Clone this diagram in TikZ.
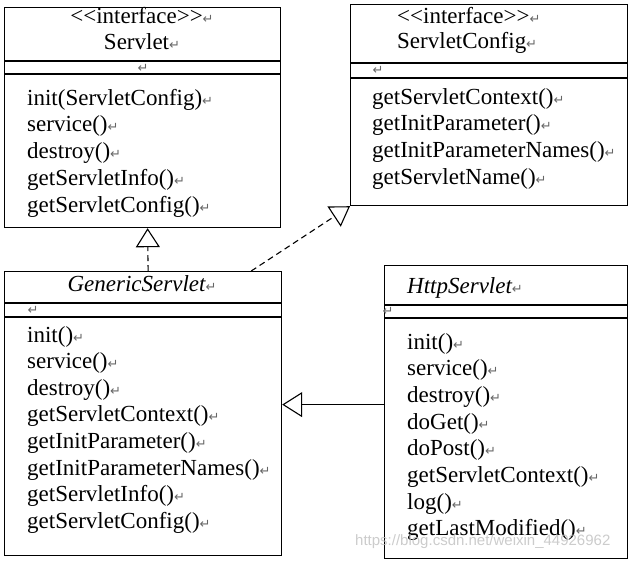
\documentclass[tikz,border=0pt]{standalone}
\usepackage{fontspec}
\setmainfont{Liberation Serif}
\newfontfamily\retfont{DejaVu Sans}
\newfontfamily\markfont{Liberation Sans}
\usetikzlibrary{arrows.meta,calc}

\newcommand{\ret}{{\retfont\fontsize{13}{13}\selectfont\color{gray!80!black}↵}}
\newcommand{\stereo}{<\kern0pt<interface>\kern0pt>}

\begin{document}
\begin{tikzpicture}[x=1pt,y=-1pt,
	box/.style={draw,line width=1.2pt,inner sep=0pt,anchor=north west},
	txt/.style={inner sep=0pt,font=\fontsize{23}{26.7}\selectfont,text height=15pt,text depth=5pt},
	realize/.style={dashed,dash pattern=on 6pt off 4pt,line width=1.1pt,-{Triangle[length=19pt,width=24pt,fill=white]}},
	inherit/.style={line width=1.1pt,-{Triangle[length=20pt,width=25pt,fill=white]}}]
	\useasboundingbox (0,0) rectangle (636,560);

	% Class boxes
	\node[box,minimum width=276pt,minimum height=220pt] (servlet) at (4,7) {};
	\node[box,minimum width=277pt,minimum height=201pt] (config) at (350,4) {};
	\node[box,minimum width=277pt,minimum height=284pt] (generic) at (4,271) {};
	\node[box,minimum width=243pt,minimum height=293pt] (http) at (384,265) {};

	% Compartment lines
	\foreach \b/\d in {servlet/54,servlet/67,config/59,config/74,generic/32,generic/46,http/40,http/53}
		\draw[line width=1.2pt] ([yshift=-\d pt]\b.north west) -- ([yshift=-\d pt]\b.north east);

	% Names
	\node[txt] (sname1) at (142,18) {\stereo\ret};
	\node[txt] (sname2) at (142,44) {Servlet\ret};
	\node[txt,anchor=west] (cname1) at (397,18) {\stereo\ret};
	\node[txt,anchor=west] (cname2) at (397,43) {ServletConfig\ret};
	\node[txt] (gname) at (142,286) {\itshape GenericServlet\ret};
	\node[txt,anchor=west] (hname) at (407,288) {\itshape HttpServlet\ret};

	% Empty attribute compartments
	\node[inner sep=0pt] (sattr) at (143,68) {\ret};
	\node[inner sep=0pt] (cattr) at (378,70) {\ret};
	\node[inner sep=0pt] (gattr) at (33,310) {\ret};
	\node[inner sep=0pt] (hattr) at (388,311) {\ret};

	% Methods
	\foreach \m [count=\i from 0] in {init(ServletConfig),service(),destroy(),getServletInfo(),getServletConfig()}
		\node[txt,anchor=west] (sm\i) at (27,{100+26.9*\i}) {\m\ret};
	\foreach \m [count=\i from 0] in {getServletContext(),getInitParameter(),getInitParameterNames(),getServletName()}
		\node[txt,anchor=west] (cm\i) at (372,{99+26.7*\i}) {\m\ret};
	\foreach \m [count=\i from 0] in {init(),service(),destroy(),getServletContext(),getInitParameter(),getInitParameterNames(),getServletInfo(),getServletConfig()}
		\node[txt,anchor=west] (gm\i) at (27,{337+26.6*\i}) {\m\ret};
	\foreach \m [count=\i from 0] in {init(),service(),destroy(),doGet(),doPost(),getServletContext(),log(),getLastModified()}
		\node[txt,anchor=west] (hm\i) at (407,{344+26.7*\i}) {\m\ret};

	% Realization
	\draw[realize] ([xshift=5pt]generic.north) -- ([xshift=5pt]servlet.south);
	\draw[realize] ([xshift=-31pt]generic.north east) -- (config.south west);

	% Inheritance
	\coordinate (hw) at ([yshift=7.5pt]http.west);
	\draw[inherit] (hw) -- (hw -| generic.east);

	% Watermark
	\node[inner sep=0pt,anchor=west,text=gray!50,opacity=0.8,font=\markfont\fontsize{15}{15}\selectfont] (mark) at (355,542) {https://blog.csdn.net/weixin\_44926962};
\end{tikzpicture}
\end{document}
